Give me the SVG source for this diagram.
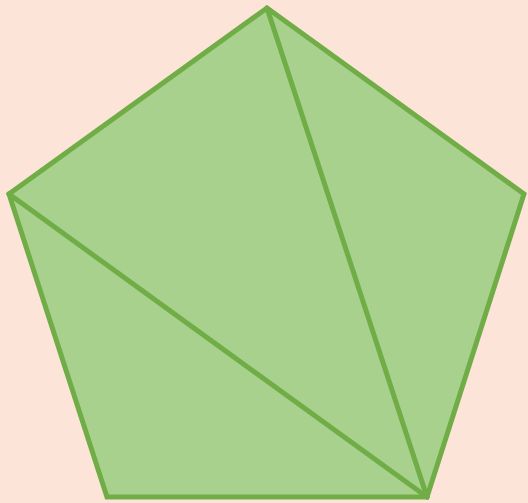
<svg xmlns="http://www.w3.org/2000/svg" width="528" height="503" viewBox="0 0 528 503">
<style>
.shape{fill:#a9d18e;stroke:#70ad47;stroke-width:5;stroke-linejoin:miter;stroke-linecap:round}
.diag{fill:none;stroke:#70ad47;stroke-width:5;stroke-linecap:round}
</style>
<rect width="528" height="503" fill="#fde4d9"/>
<g id="pentagon">
<polygon class="shape" points="267,8 524,194 427,497 107,497 9,194"/>
</g>
<g id="connectors">
<line class="diag" x1="427" y1="497" x2="267" y2="8"/>
<line class="diag" x1="427" y1="497" x2="9" y2="194"/>
</g>
</svg>
